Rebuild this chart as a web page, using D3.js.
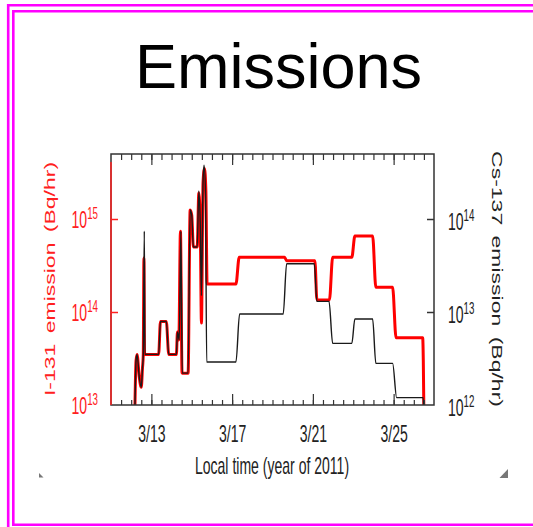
<!DOCTYPE html>
<html>
<head>
<meta charset="utf-8">
<script src="https://cdn.jsdelivr.net/npm/d3@7"></script>
<style>
  body { margin: 0; background: #fff; }
  svg { display: block; }
  text { font-family: "Liberation Sans", Arial, sans-serif; }
</style>
</head>
<body>
<div id="chart"></div>
<script>
// [day of March 2011 (local time), emission in Bq/hr]
var i131 = [
  [12.18, 8e12], [12.24, 3.0e13], [12.29, 3.5e13], [12.40, 2.0e13], [12.50, 1.55e13],
  [12.56, 2.5e13], [12.60, 3.5e13], [12.63, 3.8e14], [12.66, 3.5e13], [13.36, 3.5e13],
  [13.45, 7.9e13], [13.74, 7.9e13], [13.86, 3.5e13], [14.24, 3.5e13], [14.29, 6.1e13],
  [14.36, 5.0e13], [14.44, 7.4e14], [14.52, 2.2e13], [14.82, 2.2e13], [14.92, 1.25e15],
  [15.00, 1.1e15], [15.08, 5.0e14], [15.27, 5.0e14], [15.35, 1.9e15], [15.42, 9e14],
  [15.48, 7.6e13], [15.56, 2.5e15], [15.63, 3.5e15], [15.70, 2e15], [15.76, 2.0e14],
  [17.19, 2.0e14], [17.35, 3.87e14], [19.60, 3.87e14], [19.70, 3.56e14], [21.10, 3.56e14],
  [21.20, 1.35e14], [21.82, 1.35e14], [21.98, 3.87e14], [22.93, 3.87e14], [23.08, 6.56e14],
  [23.96, 6.56e14], [24.12, 1.84e14], [24.95, 1.84e14], [25.12, 5.3e13], [26.44, 5.3e13],
  [26.47, 3.0e13], [26.50, 8e12]
];
var cs137 = [
  [12.18, 8e11], [12.24, 3.0e12], [12.29, 3.5e12], [12.40, 2.0e12], [12.50, 1.55e12],
  [12.56, 2.5e12], [12.60, 3.5e12], [12.65, 7.4e13], [12.68, 3.5e12], [13.36, 3.5e12],
  [13.45, 7.9e12], [13.74, 7.9e12], [13.86, 3.5e12], [14.24, 3.5e12], [14.29, 6.1e12],
  [14.38, 5.0e12], [14.46, 7.4e13], [14.53, 2.2e12], [14.82, 2.2e12], [14.92, 1.25e14],
  [15.00, 1.1e14], [15.08, 5.0e13], [15.27, 5.0e13], [15.35, 2.0e14], [15.42, 9e13],
  [15.48, 1.5e13], [15.56, 2.5e14], [15.61, 3.8e14], [15.68, 2e14], [15.74, 2.9e12],
  [17.19, 2.9e12], [17.37, 9.5e12], [19.53, 9.5e12], [19.70, 3.3e13], [21.07, 3.3e13],
  [21.20, 1.3e13], [21.80, 1.3e13], [21.98, 4.6e12], [22.93, 4.6e12], [23.08, 8.4e12],
  [23.96, 8.4e12], [24.12, 2.8e12], [24.95, 2.8e12], [25.15, 1.2e12], [26.46, 1.2e12],
  [26.50, 8e11]
];
var dayTicks = [13, 17, 21, 25];
var halfDays = d3.range(11.5, 27, 0.5);
var leftExp = [13, 14, 15];
var rightExp = [12, 13, 14];

var width = 533, height = 527,
    pLeft = 111, pRight = 434, pTop = 154, pBottom = 405,
    squeeze = 0.61; // chart text is horizontally compressed

var svg = d3.select('#chart').append('svg')
  .attr('width', width)
  .attr('height', height);

// double magenta frame
var pink = '#ff00ff';
svg.append('path')
  .attr('d', 'M533,5.3H8.2V527')
  .attr('fill', 'none').attr('stroke', pink).attr('stroke-width', 2.6);
svg.append('path')
  .attr('d', 'M533,11.3H13.3V524.7H533')
  .attr('fill', 'none').attr('stroke', pink).attr('stroke-width', 2.6);

svg.append('text')
  .attr('x', 278.5).attr('y', 88)
  .attr('text-anchor', 'middle')
  .attr('font-size', 63)
  .attr('fill', '#000')
  .text('Emissions');

var x = d3.scaleLinear().domain([11, 27]).range([pLeft, pRight]);
var yI = d3.scaleLog().domain([1e13, 5e15]).range([pBottom, pTop]);
var yCs = d3.scaleLog().domain([1e12, 5e14]).range([pBottom, pTop]);

svg.append('clipPath').attr('id', 'plot')
  .append('rect')
  .attr('x', pLeft).attr('y', pTop)
  .attr('width', pRight - pLeft).attr('height', pBottom - pTop);

// lines
var lineI = d3.line()
  .x(function (d) { return x(d[0]); })
  .y(function (d) { return yI(d[1]); })
  .curve(d3.curveMonotoneX);
var lineCs = d3.line()
  .x(function (d) { return x(d[0]); })
  .y(function (d) { return yCs(d[1]); })
  .curve(d3.curveMonotoneX);

var plot = svg.append('g').attr('clip-path', 'url(#plot)');
plot.append('path').datum(i131)
  .attr('d', lineI)
  .attr('fill', 'none').attr('stroke', '#ff0000').attr('stroke-width', 3)
  .attr('stroke-linejoin', 'round');
plot.append('path').datum(cs137)
  .attr('d', lineCs)
  .attr('fill', 'none').attr('stroke', '#1a1a1a').attr('stroke-width', 1.4)
  .attr('stroke-linejoin', 'round');

// frame
svg.append('rect')
  .attr('x', pLeft).attr('y', pTop)
  .attr('width', pRight - pLeft).attr('height', pBottom - pTop)
  .attr('fill', 'none').attr('stroke', '#333').attr('stroke-width', 1.5);
svg.append('line')
  .attr('x1', pLeft).attr('x2', pLeft)
  .attr('y1', pTop + 8).attr('y2', pBottom)
  .attr('stroke', '#ff2020').attr('stroke-width', 1.5);

// x ticks (inward)
function xTicks(axis, y, vals, size) {
  var g = svg.append('g')
    .attr('transform', 'translate(0,' + y + ')')
    .call(axis(x).tickValues(vals).tickSize(-size).tickFormat(''));
  g.select('.domain').remove();
  g.selectAll('line').attr('stroke', '#333').attr('stroke-width', 1.2);
  return g;
}
xTicks(d3.axisBottom, pBottom, halfDays, 5);
xTicks(d3.axisTop, pTop, halfDays, 6);
xTicks(d3.axisTop, pTop, dayTicks, 11);

var xAxis = svg.append('g')
  .attr('transform', 'translate(0,' + pBottom + ')')
  .call(d3.axisBottom(x).tickValues(dayTicks).tickSize(-11).tickPadding(21)
    .tickFormat(function (d) { return '3/' + d; }));
xAxis.select('.domain').remove();
xAxis.selectAll('line').attr('stroke', '#333').attr('stroke-width', 1.2);
xAxis.attr('font-family', null).attr('font-size', 23);
xAxis.selectAll('text')
  .attr('fill', '#222')
  .attr('transform', 'scale(' + squeeze + ',1)');

svg.append('text')
  .attr('transform', 'translate(272,474) scale(' + squeeze + ',1)')
  .attr('text-anchor', 'middle')
  .attr('font-size', 23)
  .attr('fill', '#222')
  .text('Local time (year of 2011)');

// y ticks
var yl = svg.append('g')
  .attr('transform', 'translate(' + pLeft + ',0)')
  .call(d3.axisLeft(yI).tickValues([1e14, 1e15]).tickSize(-7).tickFormat(''));
yl.select('.domain').remove();
yl.selectAll('line').attr('stroke', '#ff2020').attr('stroke-width', 1.5);

var yr = svg.append('g')
  .attr('transform', 'translate(' + pRight + ',0)')
  .call(d3.axisRight(yCs).tickValues([1e13, 1e14]).tickSize(-7).tickFormat(''));
yr.select('.domain').remove();
yr.selectAll('line').attr('stroke', '#333').attr('stroke-width', 1.5);

// power of ten labels
function powLabel(data, scale, anchor, tx, dy, color) {
  var t = svg.selectAll(null).data(data).enter().append('text')
    .attr('text-anchor', anchor)
    .attr('transform', function (d) { return 'translate(' + tx + ',' + (scale(Math.pow(10, d)) + dy) + ') scale(' + squeeze + ',1)'; })
    .attr('font-size', 23)
    .attr('fill', color);
  t.append('tspan').text('10');
  t.append('tspan').attr('dy', -9).attr('font-size', 16).text(function (d) { return d; });
  return t;
}
powLabel(leftExp, yI, 'end', 98, 8.5, '#ff2020');
powLabel(rightExp, yCs, 'start', 448, 10.5, '#222');

// axis titles
svg.append('text')
  .attr('transform', 'translate(55,279) scale(' + squeeze + ',1) rotate(-90)')
  .attr('text-anchor', 'middle')
  .attr('font-size', 23)
  .attr('fill', '#ff2020')
  .attr('word-spacing', 4)
  .text('I-131 emission (Bq/hr)');
svg.append('text')
  .attr('transform', 'translate(491.5,279) scale(' + squeeze + ',1) rotate(90)')
  .attr('text-anchor', 'middle')
  .attr('font-size', 23)
  .attr('fill', '#222')
  .attr('word-spacing', 4)
  .text('Cs-137 emission (Bq/hr)');

// small corner marks left over in the slide
svg.append('path').attr('d', 'M39,473L43.5,477.5H39Z').attr('fill', '#777');
svg.append('path').attr('d', 'M508,469V478H499.5Z').attr('fill', '#777');
</script>
</body>
</html>
